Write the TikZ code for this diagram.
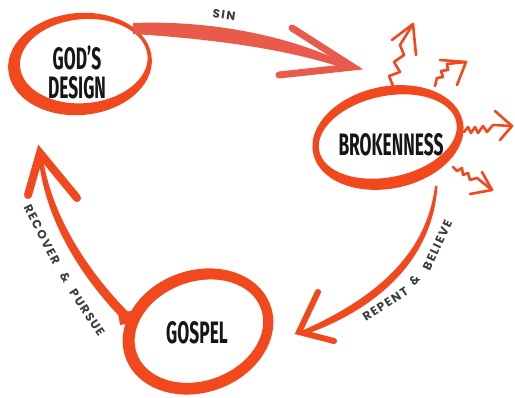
\documentclass[tikz,border=0pt]{standalone}
\usepackage{fontspec}
\newfontfamily\headfont[FakeStretch=0.56]{Fira Sans}
\newfontfamily\tagfont[LetterSpace=12]{Poppins}
\definecolor{brush}{RGB}{242,72,30}
\definecolor{sinbrush}{RGB}{232,90,74}
\definecolor{ink}{RGB}{22,22,22}
\definecolor{taggray}{RGB}{60,60,60}
\tikzset{
  headlabel/.style={font=\headfont\bfseries\fontsize{31}{29}\selectfont, text=ink, align=center, inner sep=0pt},
  taglabel/.style={font=\tagfont\bfseries\fontsize{12}{12}\selectfont, text=taggray, inner sep=0pt},
  wd/.style={taglabel, sloped, pos=#1},
  shaft/.style={fill=#1, draw=none},
  arrowarms/.style={draw=#1, line width=7pt, line cap=round, line join=miter},
  ray/.style={draw=brush, line width=2.6pt, line cap=round, line join=round},
}
\begin{document}
\begin{tikzpicture}[x=1pt,y=1pt]
\useasboundingbox (0,0) rectangle (515,-398);

% ---- the three stages
\node[headlabel] (god) at (77,-72) {GOD’S\\DESIGN};
\node[headlabel] (broken) at (391,-145) {BROKENNESS};
\node[headlabel] (gospel) at (197,-333) {GOSPEL};

% ---- brush rings around the stages (thick-to-thin crescents)
\fill[brush, even odd rule, rotate around={5:(80,-64)}]
  (80,-64) ellipse [x radius=72, y radius=51]
  (84,-61.5) ellipse [x radius=64, y radius=42];
\fill[brush, even odd rule, rotate around={12:(388,-137.5)}]
  (388,-137.5) ellipse [x radius=76.5, y radius=51]
  (388,-136.5) ellipse [x radius=70, y radius=40.5];
\fill[brush, even odd rule, rotate around={20:(198,-331.5)}]
  (198,-331.5) ellipse [x radius=77, y radius=61]
  (199,-331.5) ellipse [x radius=66, y radius=49.5];

% ---- connector end points
\coordinate (sinTip) at (353,-67);
\coordinate (repTip) at (299,-332);
\coordinate (recTip) at (40,-153);

% ---- SIN
\path[shaft=sinbrush] (133,-23) .. controls (215,-20) and (295,-37) .. (sinTip)
  -- (349,-70) .. controls (293,-50) and (215,-39) .. (133,-34) -- cycle;
\draw[arrowarms=sinbrush] (292,-28) -- (sinTip) -- (279,-75);
\node[taglabel, rotate=-8] (sin) at (224,-15) {SIN};

% ---- REPENT & BELIEVE
\path[shaft=brush] (435,-186) .. controls (427,-250) and (382,-296) .. (repTip)
  -- (304,-335) .. controls (388,-305) and (433,-252) .. (437.5,-186) -- cycle;
\draw[arrowarms=brush, line width=6pt] (318,-292) -- (repTip) -- (334,-341);
\path (364,-316) .. controls (400,-300) and (436,-268) .. (448,-214)
  node[wd=0.20] (rep1) {REPENT}
  node[wd=0.495] (rep2) {\&}
  node[wd=0.79] (rep3) {BELIEVE};

% ---- RECOVER & PURSUE
\path[shaft=brush] (125,-322) .. controls (91,-288) and (45,-228) .. (38.5,-156)
  -- (recTip) -- (42.5,-156) .. controls (53,-226) and (99,-283) .. (131,-315) -- cycle;
\fill[brush] (118,-313) -- (131,-311) -- (132,-323) -- (120,-325) -- cycle;
\draw[arrowarms=brush, line width=8pt] (28,-195) -- (recTip) -- (77,-198);
\path (29,-209) .. controls (47,-245) and (76,-300) .. (101,-332)
  node[wd=0.215] (rec1) {RECOVER}
  node[wd=0.54] (rec2) {\&}
  node[wd=0.82] (rec3) {PURSUE};

% ---- rays breaking out of BROKENNESS
\draw[ray] (393,-86) -- (389,-76) -- (400,-72) -- (394,-62) -- (404,-55) -- (400,-45) -- (413,-24);
\draw[ray] (392,-40) -- (413,-24) -- (416,-55);
\draw[ray] (435,-86) -- (437,-78) -- (443,-77) -- (441,-71) -- (448,-70) -- (447,-64) -- (466,-62);
\draw[ray] (440,-60) -- (466,-62) -- (457,-85);
\draw[ray] (464,-132) -- (468,-127) -- (471,-133) -- (475,-127) -- (478,-133) -- (483,-126) -- (487,-132) -- (493,-125) -- (512,-126);
\draw[ray] (495,-111) -- (512,-126) -- (500,-140);
\draw[ray] (453,-167) -- (457,-171) -- (462,-168) -- (463,-175) -- (468,-173) -- (470,-180) -- (477,-178) -- (492,-190);
\draw[ray] (482,-172) -- (492,-190) -- (470,-194);
\end{tikzpicture}
\end{document}
